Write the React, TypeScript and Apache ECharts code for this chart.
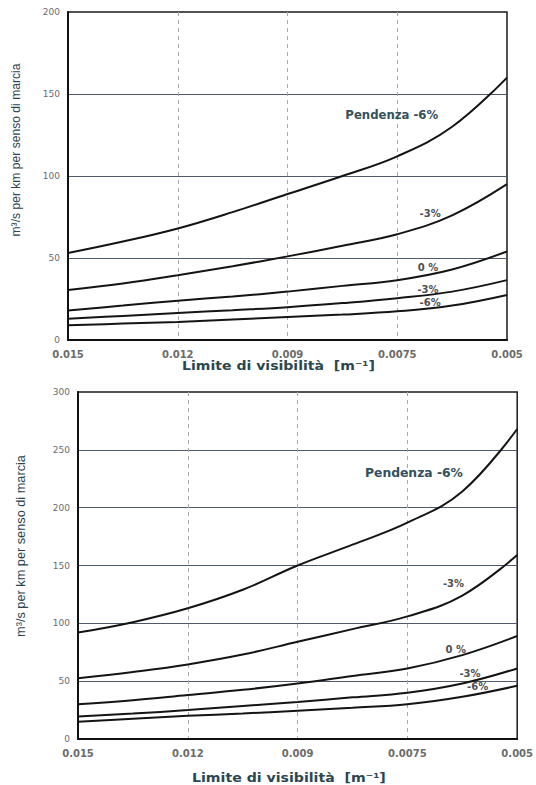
import React, { useEffect, useRef } from "react";
import * as echarts from "echarts";

// Visibility limit ticks (evenly spaced on the axis)
const xTickLabels = ["0.015", "0.012", "0.009", "0.0075", "0.005"];
// Sample positions along the visibility axis (tick index units)
const samplePos = [0, 0.5, 1, 1.5, 2, 2.5, 3, 3.5, 4];

// Upper chart: fresh-air demand, m³/s per km per direction
const upperPlus6 = [53, 60, 68, 78, 89, 100, 112, 130, 160];
const upperPlus3 = [30.5, 34.5, 39.5, 45, 51, 57.5, 64.5, 76, 95];
const upperZero = [18, 21, 24, 26.5, 29.5, 33, 36.5, 43, 54];
const upperMinus3 = [13, 14.7, 16.5, 18.2, 20, 22.5, 25.5, 29.5, 36.5];
const upperMinus6 = [9, 10, 11, 12.5, 14, 15.5, 17.5, 21, 27.5];

// Lower chart
const lowerPlus6 = [92, 101, 113, 129, 150, 168, 187, 214, 268];
const lowerPlus3 = [52.5, 58, 64.5, 73, 84, 95, 106, 124, 159];
const lowerZero = [30, 33.5, 38, 42.5, 48, 54.5, 61, 72.5, 89];
const lowerMinus3 = [19.5, 22, 25, 28.5, 32, 36, 40, 48, 61];
const lowerMinus6 = [15, 17.5, 20, 22, 24.5, 27, 30, 36.5, 46];

const curveLabels = ["Pendenza -6%", "-3%", "0 %", "-3%", "-6%"];
const yTitleText = "m³/s per km per senso di marcia";
const xTitleText = "Limite di visibilità  [m⁻¹]";

// Where each curve label sits, in axis coordinates [tick index, value]
const upperLabelAt = [[2.95, 137], [3.3, 77.4], [3.28, 44.5], [3.28, 31], [3.3, 22.6]];
const lowerLabelAt = [[3.06, 230], [3.42, 134.8], [3.44, 77.8], [3.57, 57], [3.64, 45]];

const TITLE_COLOR = "#2c4650";
const TICK_COLOR = "#6b6b6b";
const SANS = "Liberation Sans";
const BOLD_SANS = "DejaVu Sans";

// Width of a string in the given CSS font, used to size titles to their span
function textWidth(text: string, font: string): number {
  const ctx = document.createElement("canvas").getContext("2d");
  if (!ctx) return text.length * 7;
  ctx.font = font;
  return ctx.measureText(text).width;
}

function fitFontSize(text: string, base: number, weight: string, family: string, span: number) {
  const w = textWidth(text, `${weight} ${base}px "${family}"`);
  return w > 0 ? (base * span) / w : base;
}

function buildCurves(sets: number[][], labelAt: number[][], axisIndex: number, headSize: number) {
  return sets.map((vals, i) => ({
    type: "line",
    name: curveLabels[i],
    xAxisIndex: axisIndex,
    yAxisIndex: axisIndex,
    data: vals.map((v, k) => [samplePos[k], v]),
    smooth: 0.4,
    showSymbol: false,
    symbol: "none",
    lineStyle: { color: "#141414", width: 2 },
    z: 3,
    markPoint: {
      symbol: "circle",
      symbolSize: 1,
      itemStyle: { color: "rgba(0,0,0,0)" },
      data: [{ coord: labelAt[i], value: 0 }],
      label: {
        show: true,
        position: "inside",
        formatter: curveLabels[i],
        color: i === 0 ? "#34505c" : "#505050",
        fontFamily: BOLD_SANS,
        fontWeight: "bold",
        fontSize: i === 0 ? headSize : 10,
      },
    },
  }));
}

function xAxisFor(gridIndex: number) {
  return {
    type: "value",
    gridIndex,
    min: 0,
    max: 4,
    interval: 1,
    axisLine: { show: true, lineStyle: { color: "#111", width: 2 } },
    axisTick: { show: false },
    axisLabel: {
      formatter: (v: number) => xTickLabels[Math.round(v)] ?? "",
      color: TICK_COLOR,
      fontFamily: BOLD_SANS,
      fontWeight: "bold",
      fontSize: 10,
      margin: 9,
    },
    splitLine: {
      show: true,
      showMinLine: false,
      showMaxLine: false,
      lineStyle: { color: "#a8a8a8", width: 1, type: [4, 4] },
    },
  };
}

function yAxisFor(gridIndex: number, max: number) {
  return {
    type: "value",
    gridIndex,
    min: 0,
    max,
    interval: 50,
    axisLine: { show: true, lineStyle: { color: "#111", width: 2 } },
    axisTick: { show: false },
    axisLabel: {
      color: TICK_COLOR,
      fontFamily: BOLD_SANS,
      fontSize: 9,
      margin: 8,
    },
    splitLine: {
      show: true,
      showMinLine: false,
      showMaxLine: false,
      lineStyle: { color: "#4d5a6e", width: 1 },
    },
  };
}

function yTitle(x: number, y: number, span: number) {
  return {
    type: "text",
    x,
    y,
    rotation: Math.PI / 2,
    style: {
      text: yTitleText,
      fill: TITLE_COLOR,
      fontFamily: SANS,
      fontSize: fitFontSize(yTitleText, 14, "normal", SANS, span),
      align: "center",
      verticalAlign: "middle",
    },
  };
}

function xTitle(x: number, y: number, span: number) {
  const base = 12.5;
  const w = textWidth(xTitleText, `bold ${base}px "${BOLD_SANS}"`);
  return {
    type: "text",
    x,
    y,
    scaleX: w > 0 ? span / w : 1,
    style: {
      text: xTitleText,
      fill: TITLE_COLOR,
      fontFamily: BOLD_SANS,
      fontWeight: "bold",
      fontSize: base,
      align: "left",
      verticalAlign: "middle",
    },
  };
}

export default function App() {
  const ref = useRef<HTMLDivElement>(null);

  useEffect(() => {
    if (!ref.current) return;
    const chart = echarts.init(ref.current, undefined, { renderer: "svg" });
    const gridBorder = { show: true, borderColor: "#1a1a1a", borderWidth: 1.5, backgroundColor: "transparent" };

    const upperHead = fitFontSize(curveLabels[0], 12, "bold", BOLD_SANS, 93);
    const lowerHead = fitFontSize(curveLabels[0], 12, "bold", BOLD_SANS, 98);

    chart.setOption({
      animation: false,
      backgroundColor: "#ffffff",
      grid: [
        { left: 68, top: 12, width: 439, height: 328, ...gridBorder },
        { left: 78, top: 392, width: 445, height: 347, ...gridBorder },
      ],
      xAxis: [xAxisFor(0), xAxisFor(1)],
      yAxis: [yAxisFor(0, 200), yAxisFor(1, 300)],
      series: [
        ...buildCurves([upperPlus6, upperPlus3, upperZero, upperMinus3, upperMinus6], upperLabelAt, 0, upperHead),
        ...buildCurves([lowerPlus6, lowerPlus3, lowerZero, lowerMinus3, lowerMinus6], lowerLabelAt, 1, lowerHead),
      ],
      graphic: [
        yTitle(16, 150, 173),
        xTitle(182, 366, 193),
        yTitle(20, 546, 182),
        xTitle(192, 778, 194),
      ],
    });

    return () => chart.dispose();
  }, []);

  return (
    <div
      ref={ref}
      style={{ position: "fixed", left: 0, top: 0, width: 536, height: 785, background: "#fff" }}
    />
  );
}
